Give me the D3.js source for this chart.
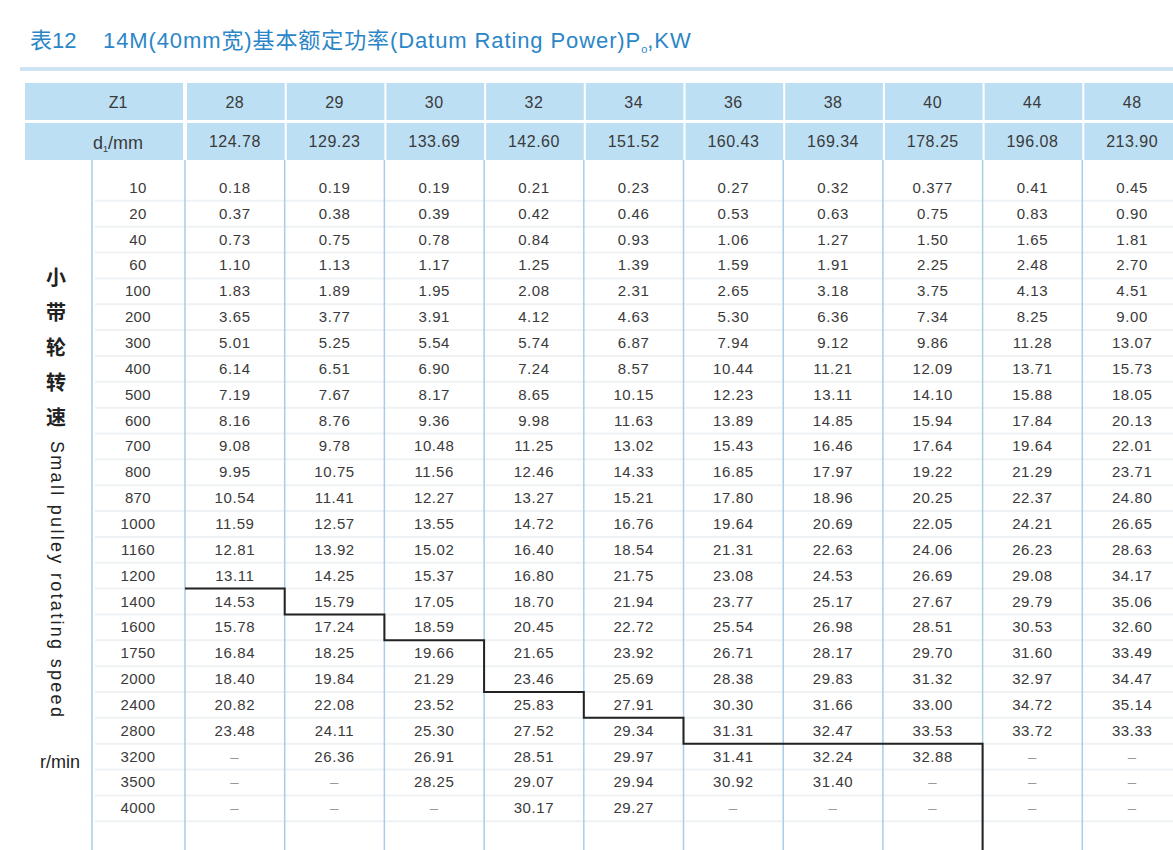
<!DOCTYPE html>
<html><head><meta charset="utf-8">
<script src="https://cdn.jsdelivr.net/npm/d3@7.9.0/dist/d3.min.js"></script>
<style>body{margin:0;background:#fff}</style>
</head><body>
<svg id="chart" width="1173" height="850"></svg>
<script>
// table data
const teeth = ["28","29","30","32","34","36","38","40","44","48"];
const diameters = ["124.78","129.23","133.69","142.60","151.52","160.43","169.34","178.25","196.08","213.90"];
const speeds = ["10","20","40","60","100","200","300","400","500","600","700","800","870","1000","1160","1200","1400","1600","1750","2000","2400","2800","3200","3500","4000"];
const power = [
  ["0.18","0.19","0.19","0.21","0.23","0.27","0.32","0.377","0.41","0.45"],
  ["0.37","0.38","0.39","0.42","0.46","0.53","0.63","0.75","0.83","0.90"],
  ["0.73","0.75","0.78","0.84","0.93","1.06","1.27","1.50","1.65","1.81"],
  ["1.10","1.13","1.17","1.25","1.39","1.59","1.91","2.25","2.48","2.70"],
  ["1.83","1.89","1.95","2.08","2.31","2.65","3.18","3.75","4.13","4.51"],
  ["3.65","3.77","3.91","4.12","4.63","5.30","6.36","7.34","8.25","9.00"],
  ["5.01","5.25","5.54","5.74","6.87","7.94","9.12","9.86","11.28","13.07"],
  ["6.14","6.51","6.90","7.24","8.57","10.44","11.21","12.09","13.71","15.73"],
  ["7.19","7.67","8.17","8.65","10.15","12.23","13.11","14.10","15.88","18.05"],
  ["8.16","8.76","9.36","9.98","11.63","13.89","14.85","15.94","17.84","20.13"],
  ["9.08","9.78","10.48","11.25","13.02","15.43","16.46","17.64","19.64","22.01"],
  ["9.95","10.75","11.56","12.46","14.33","16.85","17.97","19.22","21.29","23.71"],
  ["10.54","11.41","12.27","13.27","15.21","17.80","18.96","20.25","22.37","24.80"],
  ["11.59","12.57","13.55","14.72","16.76","19.64","20.69","22.05","24.21","26.65"],
  ["12.81","13.92","15.02","16.40","18.54","21.31","22.63","24.06","26.23","28.63"],
  ["13.11","14.25","15.37","16.80","21.75","23.08","24.53","26.69","29.08","34.17"],
  ["14.53","15.79","17.05","18.70","21.94","23.77","25.17","27.67","29.79","35.06"],
  ["15.78","17.24","18.59","20.45","22.72","25.54","26.98","28.51","30.53","32.60"],
  ["16.84","18.25","19.66","21.65","23.92","26.71","28.17","29.70","31.60","33.49"],
  ["18.40","19.84","21.29","23.46","25.69","28.38","29.83","31.32","32.97","34.47"],
  ["20.82","22.08","23.52","25.83","27.91","30.30","31.66","33.00","34.72","35.14"],
  ["23.48","24.11","25.30","27.52","29.34","31.31","32.47","33.53","33.72","33.33"],
  ["–","26.36","26.91","28.51","29.97","31.41","32.24","32.88","–","–"],
  ["–","–","28.25","29.07","29.94","30.92","31.40","–","–","–"],
  ["–","–","–","30.17","29.27","–","–","–","–","–"]
];
// last row index (per column) above the limit line
const limitRow = [15,16,17,19,20,21,21,21,null,null];

const svg = d3.select("#chart");
const font = "Liberation Sans, Arial, sans-serif";
const ink = "#3a3a3a";

const x = d3.scaleBand().domain(teeth).range([185, 1182]);
const y = d3.scaleBand().domain(speeds).range([175, 175 + 25.85 * speeds.length]);

const title = svg.append("text").attr("y", 48)
  .attr("fill", "#2b86c8").attr("font-size", 22).attr("font-family", "Liberation Sans, Noto Sans CJK SC");
title.append("tspan").attr("x", 30).text("表12");
title.append("tspan").attr("x", 103).attr("letter-spacing", 0.9).text("14M(40mm宽)基本额定功率(Datum Rating Power)P");
title.append("tspan").attr("font-size", 11).attr("dy", 5).text("o");
title.append("tspan").attr("dy", -5).attr("letter-spacing", 0.9).text(",KW");

svg.append("rect").attr("x", 20).attr("y", 67).attr("width", 1160).attr("height", 4).attr("fill", "#cfe4f2");

// header cells
const hdrFill = "#bcdff4";
svg.append("rect").attr("x", 25).attr("y", 83).attr("width", 158).attr("height", 37).attr("fill", hdrFill);
svg.append("rect").attr("x", 25).attr("y", 123).attr("width", 158).attr("height", 37).attr("fill", hdrFill);
svg.append("text").attr("x", 118).attr("y", 108).attr("text-anchor", "middle").attr("font-size", 16)
  .attr("font-family", font).attr("fill", ink).text("Z1");
const dl = svg.append("text").attr("x", 118).attr("y", 149).attr("text-anchor", "middle").attr("font-size", 18)
  .attr("font-family", font).attr("fill", ink);
dl.append("tspan").text("d");
dl.append("tspan").attr("font-size", 9).attr("dy", 3).text("1");
dl.append("tspan").attr("dy", -3).text("/mm");

teeth.forEach((t, i) => {
  const cx = x(t);
  svg.append("rect").attr("x", cx + 2).attr("y", 83).attr("width", x.bandwidth() - 2).attr("height", 37).attr("fill", hdrFill);
  svg.append("rect").attr("x", cx + 2).attr("y", 123).attr("width", x.bandwidth() - 2).attr("height", 37).attr("fill", hdrFill);
  svg.append("text").attr("x", cx + x.bandwidth() / 2).attr("y", 108).attr("text-anchor", "middle")
    .attr("font-size", 16).attr("letter-spacing", 0.5).attr("font-family", font).attr("fill", ink).text(t);
  svg.append("text").attr("x", cx + x.bandwidth() / 2).attr("y", 147).attr("text-anchor", "middle")
    .attr("font-size", 16).attr("letter-spacing", 0.5).attr("font-family", font).attr("fill", ink).text(diameters[i]);
});

// faint row stripes
speeds.forEach(s => {
  svg.append("line").attr("x1", 95).attr("x2", 1173)
    .attr("y1", y(s) + y.bandwidth()).attr("y2", y(s) + y.bandwidth())
    .attr("stroke", "#eef2f4").attr("stroke-width", 2);
});

// vertical column lines in body
[92].concat(teeth.map(t => x(t))).forEach(vx => {
  svg.append("line").attr("x1", vx).attr("x2", vx).attr("y1", 160).attr("y2", 850)
    .attr("stroke", "#a9cde6").attr("stroke-width", 1.5);
});

// speed labels
svg.selectAll(".spd").data(speeds).enter().append("text")
  .attr("x", 138).attr("y", d => y(d) + y.bandwidth() / 2 + 5)
  .attr("text-anchor", "middle").attr("font-size", 15).attr("letter-spacing", 0.4)
  .attr("font-family", font).attr("fill", ink).text(d => d);

// values
power.forEach((row, r) => {
  row.forEach((v, c) => {
    svg.append("text").attr("x", x(teeth[c]) + x.bandwidth() / 2)
      .attr("y", y(speeds[r]) + y.bandwidth() / 2 + 5)
      .attr("text-anchor", "middle").attr("font-size", 15).attr("letter-spacing", 0.6)
      .attr("font-family", font).attr("fill", v === "–" ? "#999" : ink).text(v);
  });
});

// limit staircase
const pts = [];
limitRow.forEach((r, c) => {
  if (r === null) return;
  const yy = y(speeds[r]) + y.bandwidth();
  pts.push([x(teeth[c]), yy], [x(teeth[c]) + x.bandwidth(), yy]);
});
const lastX = pts[pts.length - 1][0];
pts.push([lastX, 850]);
svg.append("path").attr("d", d3.line()(pts)).attr("fill", "none").attr("stroke", "#222").attr("stroke-width", 2);

// side labels
"小带轮转速".split("").forEach((ch, i) => {
  svg.append("text").attr("x", 56).attr("y", 285 + i * 35).attr("text-anchor", "middle")
    .attr("font-size", 20).attr("font-weight", "bold").attr("font-family", "Noto Sans CJK SC").attr("fill", "#222").text(ch);
});
svg.append("text").attr("transform", "translate(51,441) rotate(90)")
  .attr("font-size", 18).attr("letter-spacing", 2.3).attr("font-family", font).attr("fill", "#222")
  .text("Small pulley rotating speed");
svg.append("text").attr("x", 60).attr("y", 768).attr("text-anchor", "middle")
  .attr("font-size", 18).attr("font-family", font).attr("fill", "#222").text("r/min");
</script>
</body></html>
